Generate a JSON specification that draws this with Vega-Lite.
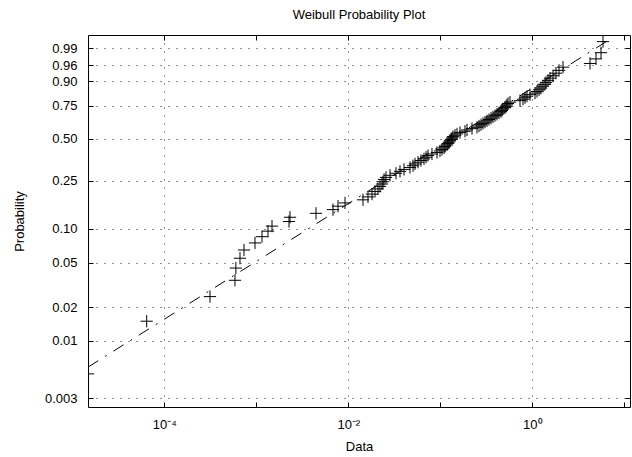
{
  "$schema": "https://vega.github.io/schema/vega-lite/v6.json",
  "width": 542,
  "height": 372,
  "autosize": {"type": "none"},
  "padding": {"left": 88, "top": 35, "right": 2, "bottom": 50},
  "background": "white",
  "title": {"text": "Weibull Probability Plot", "fontSize": 13, "fontWeight": "normal", "font": "Liberation Sans", "offset": 13, "color": "black", "anchor": "middle"},
  "config": {
    "view": {"stroke": "black", "strokeWidth": 1},
    "axis": {"domain": false, "labelFont": "Liberation Sans", "titleFont": "Liberation Sans", "labelFontSize": 13, "titleFontSize": 13, "titleFontWeight": "normal", "labelColor": "black", "titleColor": "black", "tickColor": "black", "gridColor": "#222", "gridDash": [1, 7], "gridWidth": 1, "gridOpacity": 1}
  },
  "datasets": {
    "pts": [
      {"p": 0.005, "x": 1.482e-5}, {"p": 0.015, "x": 6.437e-5}, {"p": 0.025, "x": 3.138e-4}, {"p": 0.035, "x": 5.867e-4}, {"p": 0.045, "x": 6.0e-4},
      {"p": 0.055, "x": 6.65e-4}, {"p": 0.065, "x": 7.35e-4}, {"p": 0.075, "x": 9.68e-4}, {"p": 0.085, "x": 1.153e-3}, {"p": 0.095, "x": 1.341e-3},
      {"p": 0.105, "x": 1.482e-3}, {"p": 0.115, "x": 2.267e-3}, {"p": 0.125, "x": 2.325e-3}, {"p": 0.135, "x": 4.456e-3}, {"p": 0.145, "x": 6.82e-3},
      {"p": 0.155, "x": 7.73e-3}, {"p": 0.165, "x": 9.21e-3}, {"p": 0.175, "x": 1.445e-2}, {"p": 0.185, "x": 1.637e-2}, {"p": 0.195, "x": 1.81e-2},
      {"p": 0.205, "x": 1.951e-2}, {"p": 0.215, "x": 2.103e-2}, {"p": 0.225, "x": 2.211e-2}, {"p": 0.235, "x": 2.324e-2}, {"p": 0.245, "x": 2.383e-2},
      {"p": 0.255, "x": 2.443e-2}, {"p": 0.265, "x": 2.569e-2}, {"p": 0.275, "x": 2.84e-2}, {"p": 0.285, "x": 3.3e-2}, {"p": 0.295, "x": 3.648e-2},
      {"p": 0.305, "x": 4.031e-2}, {"p": 0.315, "x": 4.685e-2}, {"p": 0.325, "x": 5.05e-2}, {"p": 0.335, "x": 5.309e-2}, {"p": 0.345, "x": 5.724e-2},
      {"p": 0.355, "x": 6.17e-2}, {"p": 0.365, "x": 6.65e-2}, {"p": 0.375, "x": 6.99e-2}, {"p": 0.385, "x": 7.35e-2}, {"p": 0.395, "x": 8.124e-2},
      {"p": 0.405, "x": 9.21e-2}, {"p": 0.415, "x": 9.92e-2}, {"p": 0.425, "x": 0.1043}, {"p": 0.435, "x": 0.1097}, {"p": 0.445, "x": 0.1125},
      {"p": 0.455, "x": 0.1182}, {"p": 0.465, "x": 0.1212}, {"p": 0.475, "x": 0.1243}, {"p": 0.485, "x": 0.1275}, {"p": 0.495, "x": 0.1307},
      {"p": 0.505, "x": 0.134}, {"p": 0.515, "x": 0.1374}, {"p": 0.525, "x": 0.1445}, {"p": 0.535, "x": 0.1519}, {"p": 0.545, "x": 0.1637},
      {"p": 0.555, "x": 0.1855}, {"p": 0.565, "x": 0.1951}, {"p": 0.575, "x": 0.2211}, {"p": 0.585, "x": 0.2505}, {"p": 0.595, "x": 0.2634},
      {"p": 0.605, "x": 0.2769}, {"p": 0.615, "x": 0.2911}, {"p": 0.625, "x": 0.3061}, {"p": 0.635, "x": 0.3218}, {"p": 0.645, "x": 0.3383},
      {"p": 0.655, "x": 0.3557}, {"p": 0.665, "x": 0.3739}, {"p": 0.675, "x": 0.3932}, {"p": 0.685, "x": 0.4133}, {"p": 0.695, "x": 0.4345},
      {"p": 0.705, "x": 0.4568}, {"p": 0.715, "x": 0.4685}, {"p": 0.725, "x": 0.4803}, {"p": 0.735, "x": 0.505}, {"p": 0.745, "x": 0.5177},
      {"p": 0.755, "x": 0.5309}, {"p": 0.765, "x": 0.5444}, {"p": 0.775, "x": 0.5724}, {"p": 0.785, "x": 0.735}, {"p": 0.795, "x": 0.7924},
      {"p": 0.805, "x": 0.8331}, {"p": 0.815, "x": 0.8758}, {"p": 0.825, "x": 0.9441}, {"p": 0.835, "x": 1.07}, {"p": 0.845, "x": 1.125},
      {"p": 0.855, "x": 1.183}, {"p": 0.865, "x": 1.243}, {"p": 0.875, "x": 1.307}, {"p": 0.885, "x": 1.374}, {"p": 0.895, "x": 1.409},
      {"p": 0.905, "x": 1.482}, {"p": 0.915, "x": 1.557}, {"p": 0.925, "x": 1.679}, {"p": 0.935, "x": 1.81}, {"p": 0.945, "x": 1.951},
      {"p": 0.955, "x": 2.157}, {"p": 0.965, "x": 4.239}, {"p": 0.975, "x": 4.925}, {"p": 0.985, "x": 5.58}, {"p": 0.995, "x": 5.867}
    ],
    "fit": [
      {"p": 0.005759, "x": 1.482e-5},
      {"p": 0.996156, "x": 6.99}
    ]
  },
  "layer": [
    {
      "data": {"name": "pts"},
      "transform": [{"calculate": "log(-log(1 - datum.p))", "as": "w"}],
      "mark": {"type": "point", "shape": "M-1,0L1,0M0,-1L0,1", "filled": false, "stroke": "black", "strokeWidth": 1, "size": 150, "opacity": 1, "clip": true},
      "encoding": {
        "x": {
          "field": "x", "type": "quantitative",
          "scale": {"type": "log", "domain": [1.482e-5, 11.53], "nice": false},
          "axis": {
            "orient": "bottom", "title": "Data", "titlePadding": 9,
            "values": [0.00001, 0.0001, 0.001, 0.01, 0.1, 1, 10],
            "labelExpr": "datum.value > 5e-5 && datum.value < 2e-4 ? '10⁻⁴' : (datum.value > 5e-3 && datum.value < 2e-2 ? '10⁻²' : (datum.value > 0.5 && datum.value < 2 ? '10⁰' : ''))",
            "grid": true,
            "gridOpacity": {"condition": {"test": "(datum.value > 5e-5 && datum.value < 2e-4) || (datum.value > 5e-3 && datum.value < 2e-2) || (datum.value > 0.5 && datum.value < 2)", "value": 1}, "value": 0},
            "tickSize": -5, "labelPadding": 16, "labelFlush": false, "labelOverlap": false
          }
        },
        "y": {
          "field": "w", "type": "quantitative",
          "scale": {"domain": [-5.99, 1.806], "nice": false, "zero": false},
          "axis": {
            "orient": "left", "title": "Probability", "titlePadding": 18,
            "values": [1.52718, 1.16903, 0.834032, 0.326634, -0.366513, -1.245899, -2.250367, -2.970195, -3.901922, -4.600149, -5.807643],
            "labelExpr": "datum.value > 1.4 ? '0.99' : datum.value > 1 ? '0.96' : datum.value > 0.6 ? '0.90' : datum.value > 0 ? '0.75' : datum.value > -1 ? '0.50' : datum.value > -2 ? '0.25' : datum.value > -2.6 ? '0.10' : datum.value > -3.5 ? '0.05' : datum.value > -4.3 ? '0.02' : datum.value > -5 ? '0.01' : '0.003'",
            "grid": true, "tickSize": -5, "labelPadding": 16, "labelOverlap": false, "labelFlush": false
          }
        }
      }
    },
    {
      "data": {"name": "fit"},
      "transform": [{"calculate": "log(-log(1 - datum.p))", "as": "w"}],
      "mark": {"type": "line", "color": "black", "strokeWidth": 1, "strokeDash": [12, 8, 2, 8], "clip": true},
      "encoding": {
        "x": {"field": "x", "type": "quantitative", "axis": {"orient": "top", "title": null, "labels": false, "grid": false, "values": [0.00001, 0.0001, 0.001, 0.01, 0.1, 1, 10], "tickSize": -5}},
        "y": {"field": "w", "type": "quantitative", "axis": {"orient": "right", "title": null, "labels": false, "grid": false, "values": [1.52718, 1.16903, 0.834032, 0.326634, -0.366513, -1.245899, -2.250367, -2.970195, -3.901922, -4.600149, -5.807643], "tickSize": -5}}
      }
    }
  ],
  "resolve": {"axis": {"x": "independent", "y": "independent"}}
}
